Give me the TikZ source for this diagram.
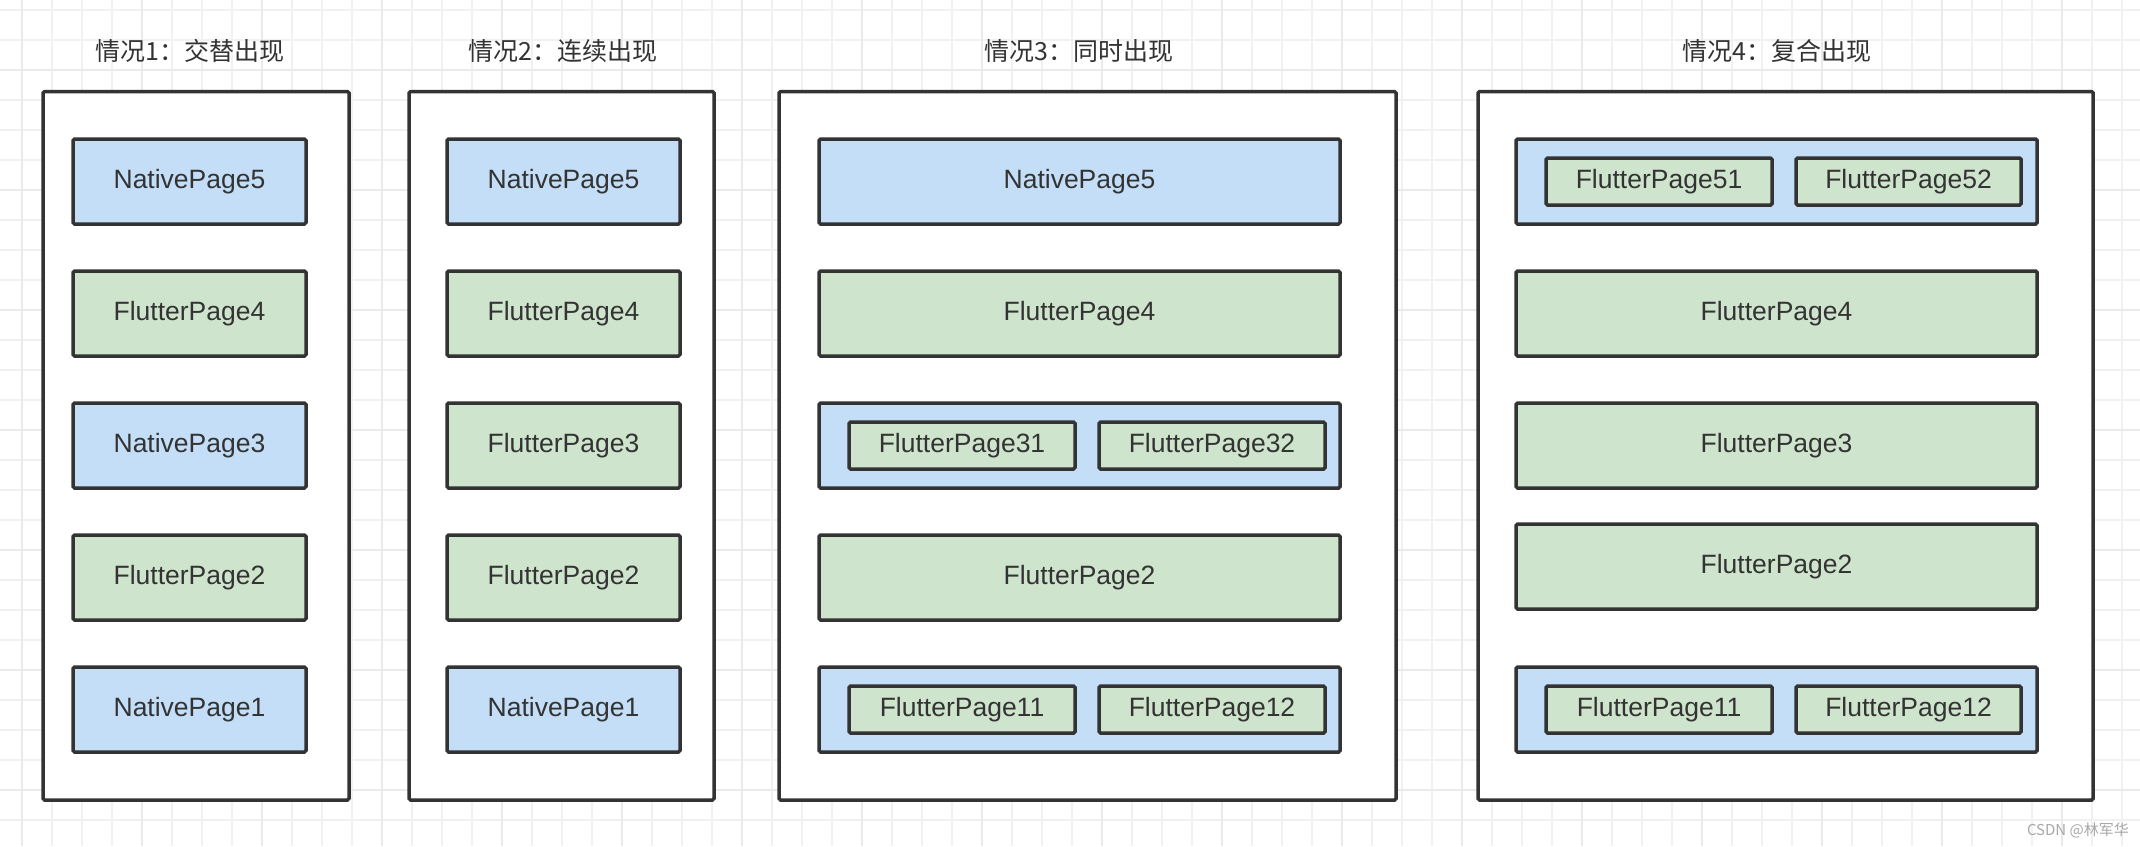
\documentclass[tikz,border=0pt]{standalone}
\usepackage{fontspec}
\setmainfont{Liberation Sans}
\newfontfamily\cjk{Noto Sans CJK SC}
\definecolor{edge}{HTML}{333333}
\definecolor{nblue}{HTML}{C3DEF6}
\definecolor{fgreen}{HTML}{CFE4CD}
\definecolor{gridminor}{HTML}{F1F1F1}
\definecolor{gridmajor}{HTML}{EAEAEA}
\definecolor{wm}{HTML}{A8A8A8}
\tikzset{
  base/.style={draw=edge, line width=3.5pt, rounded corners=1.5pt, inner sep=0pt, text=edge, font=\fontsize{26.5}{29}\selectfont},
  panel/.style={base, fill=white},
  native/.style={base, fill=nblue},
  flutter/.style={base, fill=fgreen},
  ttl/.style={text=edge, font=\cjk\fontsize{25}{29}\selectfont, inner sep=0pt},
  gmin/.style={draw=gridminor, line width=2pt},
  gmaj/.style={draw=gridmajor, line width=2.2pt},
}
\newcommand\bx[7]{\node[#6, minimum width={(#4)-(#2)}, minimum height={(#5)-(#3)}] (#1) at ({((#2)+(#4))/2},{((#3)+(#5))/2}) {#7};}
\begin{document}
\begin{tikzpicture}[x=1pt,y=-1pt]
\useasboundingbox (0,0) rectangle (2140,846);
\fill[white] (0,0) rectangle (2140,846);
% grid
\foreach \x in {21.7,51.7,...,2140} \draw[gmin] (\x,0) -- (\x,846);
\foreach \y in {10,40,...,846} \draw[gmin] (0,\y) -- (2140,\y);
\foreach \x in {21.7,141.7,...,2140} \draw[gmaj] (\x,0) -- (\x,846);
\foreach \y in {70,190,...,846} \draw[gmaj] (0,\y) -- (2140,\y);
% titles
\node[ttl] (t1) at (190,51) {情况1：交替出现};
\node[ttl] (t2) at (563,51) {情况2：连续出现};
\node[ttl] (t3) at (1079,51) {情况3：同时出现};
\node[ttl] (t4) at (1777,51) {情况4：复合出现};
% panel 1
\bx{p1}{43}{91.5}{349}{800}{panel}{}
\bx{a5}{73}{139}{306}{224}{native}{NativePage5}
\bx{a4}{73}{271}{306}{356}{flutter}{FlutterPage4}
\bx{a3}{73}{403}{306}{488}{native}{NativePage3}
\bx{a2}{73}{535}{306}{620}{flutter}{FlutterPage2}
\bx{a1}{73}{667}{306}{752}{native}{NativePage1}
% panel 2
\bx{p2}{409}{91.5}{714}{800}{panel}{}
\bx{b5}{447}{139}{680}{224}{native}{NativePage5}
\bx{b4}{447}{271}{680}{356}{flutter}{FlutterPage4}
\bx{b3}{447}{403}{680}{488}{flutter}{FlutterPage3}
\bx{b2}{447}{535}{680}{620}{flutter}{FlutterPage2}
\bx{b1}{447}{667}{680}{752}{native}{NativePage1}
% panel 3
\bx{p3}{779}{91.5}{1396}{800}{panel}{}
\bx{c5}{819}{139}{1340}{224}{native}{NativePage5}
\bx{c4}{819}{271}{1340}{356}{flutter}{FlutterPage4}
\bx{c3}{819}{403}{1340}{488}{native}{}
\bx{c31}{849}{422}{1075}{469}{flutter}{FlutterPage31}
\bx{c32}{1099}{422}{1325}{469}{flutter}{FlutterPage32}
\bx{c2}{819}{535}{1340}{620}{flutter}{FlutterPage2}
\bx{c1}{819}{667}{1340}{752}{native}{}
\bx{c11}{849}{686}{1075}{733}{flutter}{FlutterPage11}
\bx{c12}{1099}{686}{1325}{733}{flutter}{FlutterPage12}
% panel 4
\bx{p4}{1478}{91.5}{2093}{800}{panel}{}
\bx{d5}{1516}{139}{2037}{224}{native}{}
\bx{d51}{1546}{158}{1772}{205}{flutter}{FlutterPage51}
\bx{d52}{1796}{158}{2021}{205}{flutter}{FlutterPage52}
\bx{d4}{1516}{271}{2037}{356}{flutter}{FlutterPage4}
\bx{d3}{1516}{403}{2037}{488}{flutter}{FlutterPage3}
\bx{d2}{1516}{524}{2037}{609}{flutter}{FlutterPage2}
\bx{d1}{1516}{667}{2037}{752}{native}{}
\bx{d11}{1546}{686}{1772}{733}{flutter}{FlutterPage11}
\bx{d12}{1796}{686}{2021}{733}{flutter}{FlutterPage12}
% watermark
\node[text=wm, font=\cjk\fontsize{15}{17}\selectfont, inner sep=0pt, anchor=east] (wmk) at (2129,830) {CSDN @林军华};
\end{tikzpicture}
\end{document}
